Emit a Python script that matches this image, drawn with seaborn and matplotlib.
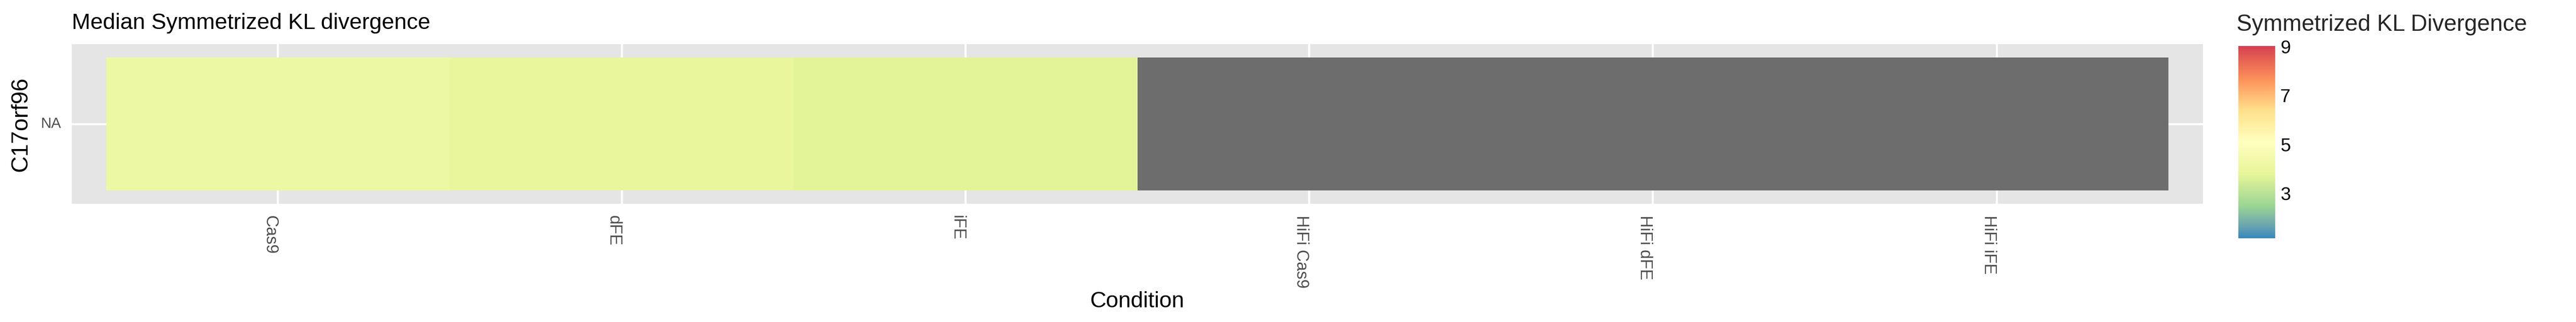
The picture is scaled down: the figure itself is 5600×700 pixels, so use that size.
import numpy as np
import pandas as pd
import matplotlib
matplotlib.use("Agg")
import matplotlib.pyplot as plt
from matplotlib.colors import ListedColormap, to_rgb
import seaborn as sns

genes = ["NA"]
conditions = ["Cas9", "dFE", "iFE", "HiFi Cas9", "HiFi dFE", "HiFi iFE"]
kl_values = [4.15, 3.92, 3.72, np.nan, np.nan, np.nan]
scale_limits = [1.15, 9.02]
colorbar_ticks = [3, 5, 7, 9]
palette_hex = ["#3288BD", "#99D594", "#E6F598", "#FFFFBF", "#FEE08B", "#FC8D59", "#D53E4F"]

# Lab-space interpolation of the palette (as ggplot's gradient does)
WHITE = np.array([0.95047, 1.0, 1.08883])
M = np.array([[0.4124, 0.3576, 0.1805], [0.2126, 0.7152, 0.0722], [0.0193, 0.1192, 0.9505]])
Minv = np.linalg.inv(M)

def to_lab(rgb):
    c = np.array(rgb)
    lin = np.where(c <= 0.04045, c / 12.92, ((c + 0.055) / 1.055) ** 2.4)
    xyz = M @ lin / WHITE
    f = np.where(xyz > 0.008856, np.cbrt(xyz), 7.787 * xyz + 16 / 116)
    return np.array([116 * f[1] - 16, 500 * (f[0] - f[1]), 200 * (f[1] - f[2])])

def from_lab(lab):
    L, a, b = lab
    fy = (L + 16) / 116
    fx = fy + a / 500
    fz = fy - b / 200
    fs = np.array([fx, fy, fz])
    xyz = np.where(fs ** 3 > 0.008856, fs ** 3, (fs - 16 / 116) / 7.787) * WHITE
    lin = np.clip(Minv @ xyz, 0, 1)
    c = np.where(lin <= 0.0031308, 12.92 * lin, 1.055 * lin ** (1 / 2.4) - 0.055)
    return np.clip(c, 0, 1)

labs = [to_lab(to_rgb(h)) for h in palette_hex]
pos = np.linspace(0, 1, len(labs))
cols = []
for t in np.linspace(0, 1, 512):
    i = min(int(t * (len(labs) - 1)), len(labs) - 2)
    u = (t - pos[i]) / (pos[i + 1] - pos[i])
    cols.append(from_lab(labs[i] * (1 - u) + labs[i + 1] * u))
cmap = ListedColormap(cols)
cmap.set_bad("#6D6D6D")

df = pd.DataFrame([kl_values], index=genes, columns=conditions)

sns.set_theme(style="white")
plt.rcParams["font.family"] = ["Liberation Sans", "DejaVu Sans"]

W, H = 5600, 700
fig = plt.figure(figsize=(56, 7), dpi=100)
ax = fig.add_axes([156 / W, 1 - 443 / H, (4789 - 156) / W, (443 - 96) / H])
cax = fig.add_axes([4866 / W, 1 - 518 / H, 80 / W, 418 / H])

sns.heatmap(df, ax=ax, cmap=cmap, vmin=scale_limits[0], vmax=scale_limits[1],
            cbar_ax=cax, linewidths=0)
ax.set_facecolor("#E5E5E5")
ax.set_xlim(-0.1, len(conditions) + 0.1)
ax.set_ylim(1.1, -0.1)
ax.set_axisbelow(True)
ax.grid(True, color="white", linewidth=3.2)
for s in ax.spines.values():
    s.set_visible(False)

ax.set_xticks(np.arange(len(conditions)) + 0.5)
ax.set_xticklabels(conditions, rotation=-90, ha="right", va="top", fontsize=26, color="#4D4D4D")
ax.set_yticks([0.5])
ax.set_yticklabels(genes, rotation=0, fontsize=23, color="#4D4D4D")
ax.tick_params(axis="x", length=0, pad=18)
ax.tick_params(axis="y", length=0, pad=17)

ax.set_xlabel("Condition", fontsize=35, color="black")
ax.xaxis.set_label_coords(0.5, (44 - 257) / 347)
ax.xaxis.label.set_va("center")
ax.set_ylabel("C17orf96", fontsize=36, color="black")
ax.yaxis.set_label_coords((45 - 156) / 4633, 0.5)
ax.yaxis.label.set_va("center")

ax.set_title("Median Symmetrized KL divergence", loc="left", fontsize=35, pad=24, color="black")

cbar = ax.collections[0].colorbar
cbar.outline.set_visible(False)
cax.set_yticks(colorbar_ticks)
cax.tick_params(axis="y", direction="in", length=12, width=2.2, color="white",
                left=True, right=True, labelsize=29, labelcolor="black", pad=8)
fig.text(4862 / W, 1 - 67 / H, "Symmetrized KL Divergence", fontsize=36, va="baseline", ha="left")

fig.savefig("out.png", dpi=100, facecolor="white")
